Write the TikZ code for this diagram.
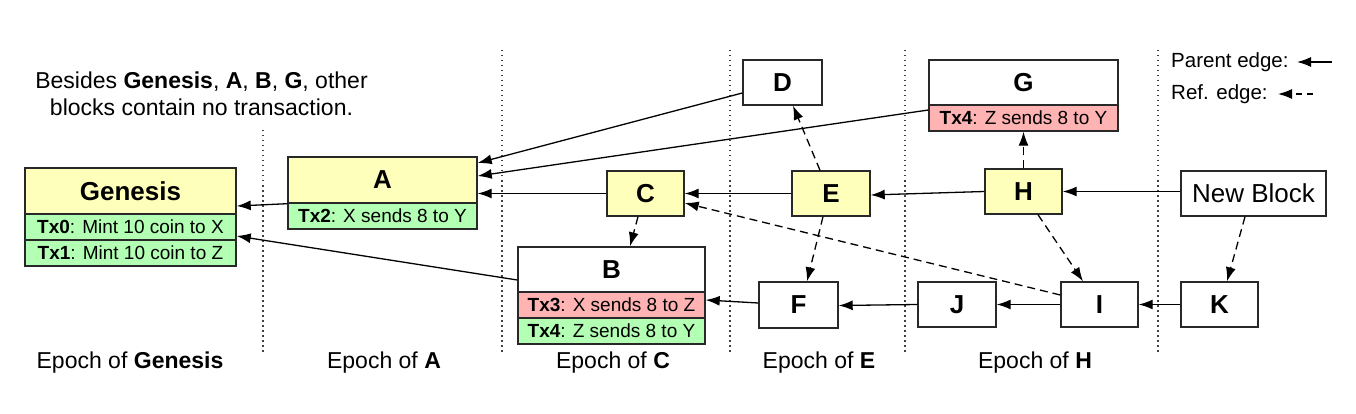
\documentclass[tikz,border=0pt]{standalone}
\usepackage{fontspec}
\setmainfont{Liberation Sans}
\usetikzlibrary{arrows.meta,calc}
\definecolor{byel}{RGB}{255,255,188}
\definecolor{bgrn}{RGB}{179,255,179}
\definecolor{bred}{RGB}{255,179,179}
\definecolor{bord}{RGB}{40,40,40}
\tikzset{
  blk/.style={draw=bord, line width=1.4pt, fill=white, inner sep=0pt, minimum height=45pt,
    font=\fontsize{26}{30}\selectfont\bfseries},
  yel/.style={blk, fill=byel},
  txrow/.style={draw=bord, line width=1.4pt, inner sep=0pt, minimum height=26pt,
    font=\fontsize{19}{22}\selectfont},
  grn/.style={txrow, fill=bgrn},
  red/.style={txrow, fill=bred},
  par/.style={line width=1.3pt, -{Latex[length=14pt,width=10pt]}},
  refe/.style={par, dash pattern=on 8pt off 5pt},
  sep/.style={line width=1.6pt, dash pattern=on 1.5pt off 3.5pt, draw=black!75},
  lbl/.style={inner sep=0pt, font=\fontsize{23}{27}\selectfont},
}
\begin{document}
\begin{tikzpicture}[x=1pt,y=-1pt]
\useasboundingbox (0,0) rectangle (1356,414);
% separators
\draw[sep] (263,130) -- (263,352);
\draw[sep] (502,50) -- (502,352);
\draw[sep] (730,50) -- (730,352);
\draw[sep] (905,50) -- (905,352);
\draw[sep] (1158,50) -- (1158,352);

% note
\node[lbl, align=center, font=\fontsize{23}{27}\selectfont] (note) at (201.5,93.5)
  {Besides \textbf{Genesis}, \textbf{A}, \textbf{B}, \textbf{G}, other\\blocks contain no transaction.};

% Genesis
\node[yel, minimum width=211pt, minimum height=46pt] (gen) at (130.5,191) {Genesis};
\node[grn, minimum width=211pt] (gen1) at (130.5,227) {\textbf{Tx0}: Mint 10 coin to X};
\node[grn, minimum width=211pt] (gen2) at (130.5,253) {\textbf{Tx1}: Mint 10 coin to Z};
% A
\node[yel, minimum width=189pt, minimum height=46pt] (A) at (382.5,180) {A};
\node[grn, minimum width=189pt] (A1) at (382.5,216) {\textbf{Tx2}: X sends 8 to Y};
% B
\node[blk, minimum width=187pt] (B) at (611.5,269.5) {B};
\node[red, minimum width=187pt] (B1) at (611.5,305) {\textbf{Tx3}: X sends 8 to Z};
\node[grn, minimum width=187pt] (B2) at (611.5,331) {\textbf{Tx4}: Z sends 8 to Y};
% C D E F
\node[yel, minimum width=77pt] (C) at (645.5,193.5) {C};
\node[blk, minimum width=79pt] (D) at (782.5,82.5) {D};
\node[yel, minimum width=78pt] (E) at (831,193.5) {E};
\node[blk, minimum width=79pt, minimum height=46pt] (F) at (798.5,305) {F};
% G H
\node[blk, minimum width=189pt] (G) at (1023.5,82.5) {G};
\node[red, minimum width=189pt] (G1) at (1023.5,118) {\textbf{Tx4}: Z sends 8 to Y};
\node[yel, minimum width=77pt] (H) at (1023.5,191.5) {H};
% J I K New Block
\node[blk, minimum width=78pt] (J) at (957,304.5) {J};
\node[blk, minimum width=77pt] (I) at (1099.5,304.5) {I};
\node[blk, minimum width=77pt] (K) at (1219.5,304.5) {K};
\node[blk, minimum width=145pt, font=\fontsize{26}{30}\selectfont] (NB) at (1253.5,193.5) {New Block};

% parent edges
\draw[par] (A.south west) -- ([yshift=-15pt]gen.east);
\draw[par] ([yshift=-10.5pt]B.west) -- ([yshift=-9pt]gen1.east);
\draw[par] ([yshift=-10.5pt]D.west) -- ([yshift=17pt]A.east);
\draw[par] ([yshift=8pt]G1.west) -- ([yshift=4pt]A.east);
\draw[par] (C.west) -- ([yshift=-13.5pt]A.east);
\draw[par] (E.west) -- (C.east);
\draw[par] (H.west) -- ([yshift=-1.5pt]E.east);
\draw[par] ([yshift=2pt]NB.west) -- (H.east);
\draw[par] ([yshift=2pt]F.west) -- ([yshift=5pt]B1.east);
\draw[par] (J.west) -- ([yshift=-0.5pt]F.east);
\draw[par] (I.west) -- (J.east);
\draw[par] (K.west) -- (I.east);

% reference edges
\draw[refe] ([xshift=-7.5pt]C.south) -- ([xshift=18.5pt]B.north);
\draw[refe] ([xshift=-11pt]E.north) -- ([xshift=10.5pt]D.south);
\draw[refe] ([xshift=-8pt]E.south) -- ([xshift=8.5pt]F.north);
\draw[refe] ([yshift=9.5pt]I.west) -- ([yshift=-9.5pt]C.east);
\draw[refe] (H.north) -- (G1.south);
\draw[refe] ([xshift=14.5pt]H.south) -- ([xshift=-16.5pt]I.north);
\draw[refe] ([xshift=-8.5pt]NB.south) -- ([xshift=7.5pt]K.north);

% legend
\node[lbl, anchor=west, font=\fontsize{20.5}{24}\selectfont] (lp) at (1171,62) {Parent edge:};
\node[lbl, anchor=west, font=\fontsize{20.5}{24}\selectfont] (lr) at (1171,94) {Ref. edge:};
\coordinate (lp1) at (1332,62);
\coordinate (lp2) at (1297,62);
\coordinate (lr1) at (1313,94);
\coordinate (lr2) at (1278,94);
\draw[par] (lp1) -- (lp2);
\draw[par, dash pattern=on 6pt off 5pt] (lr1) -- (lr2);

% epoch labels
\node[lbl] (ep0) at (130,363) {Epoch of \textbf{Genesis}};
\node[lbl] (ep1) at (384,363) {Epoch of \textbf{A}};
\node[lbl] (ep2) at (613,363) {Epoch of \textbf{C}};
\node[lbl] (ep3) at (819,363) {Epoch of \textbf{E}};
\node[lbl] (ep4) at (1035,363) {Epoch of \textbf{H}};
\end{tikzpicture}
\end{document}
